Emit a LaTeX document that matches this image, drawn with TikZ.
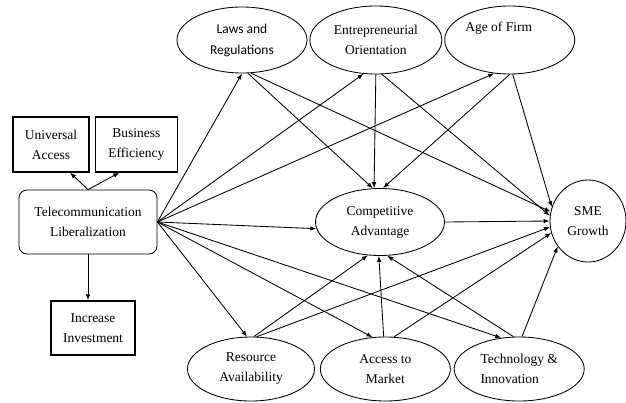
\documentclass[tikz,border=0pt]{standalone}
\usepackage{fontspec}
\setmainfont{Liberation Serif}
\newfontfamily\timesfont{Liberation Serif}
\newfontfamily\lawsfont{Carlito}
\usetikzlibrary{shapes.geometric,arrows.meta,positioning}

\begin{document}
\begin{tikzpicture}[x=1pt, y=-1pt, ->, >={Latex[length=6pt,width=4.5pt]}, line width=0.85pt,
        every node/.style={font=\timesfont\fontsize{13.5}{20}\selectfont, align=center, inner sep=0pt},
        box/.style={draw, rectangle, line width=1.3pt, minimum height=55pt},
        factor/.style={draw, ellipse, minimum height=66pt}]
        \useasboundingbox (0,0) rectangle (626,402);

        \node[box, minimum width=76pt] (UA) at (51,144.5) {Universal\\Access};
        \node[box, minimum width=82pt] (BE) [right=5pt of UA] {Business\\Efficiency};
        \node[draw, rounded corners=8pt, minimum width=138pt, minimum height=64pt] (TL) at (88,222) {Telecommunication\\Liberalization};
        \node[box, minimum width=84pt, minimum height=54pt] (II) at (93,328) {Increase\\Investment};

        \node[factor, minimum width=130pt, font=\lawsfont\fontsize{13.5}{21}\selectfont] (LR) at (242,40) {Laws and\\Regulations};
        \node[factor, minimum width=132pt, minimum height=68pt] (EO) [right=2pt of LR] {Entrepreneurial\\Orientation};
        \node[factor, minimum width=130pt, minimum height=68pt] (AF) [right=2pt of EO] {Age of Firm\rule{22pt}{0pt}\\[6pt]\rule{0pt}{1pt}};
        \node[factor, minimum width=129pt, minimum height=67pt] (CA) at (380,222) {Competitive\\Advantage};
        \node[factor, minimum width=76pt, minimum height=82pt] (SG) at (588,221) {SME\\Growth};
        \node[factor, minimum width=127pt, minimum height=64pt] (RA) at (251,369) {Resource\\Availability};
        \node[factor, minimum width=130pt, minimum height=64pt] (AM) [right=5pt of RA] {Access to\\Market};
        \node[factor, minimum width=130pt, minimum height=64pt, align=left] (TI) [right=3pt of AM] {Technology \&\\Innovation};

        \path (TL.north) edge ([xshift=19pt]UA.south)
              (TL.north) edge ([xshift=-17pt]BE.south)
              (TL.south) edge (TL.south |- II.north)
              (TL.east) edge (LR.south)
              (TL.east) edge (EO.250)
              (TL.east) edge (AF.245)
              (TL.east) edge (CA.186)
              (TL.east) edge (RA.97)
              (TL.east) edge (AM.112)
              (TL.east) edge (TI.120)
              (LR.-80) edge (CA.102)
              (EO.south) edge (CA.100)
              (AF.-90) edge (CA.85)
              (RA.85) edge (CA.-110)
              (AM.93) edge (CA.-92)
              (TI.100) edge (CA.-78)
              (LR.-75) edge (SG.166)
              (EO.-80) edge (SG.172)
              (AF.-85) edge (SG.159)
              (CA.east) edge (SG.west)
              (RA.80) edge (SG.189)
              (AM.75) edge (SG.198)
              (TI.85) edge (SG.220)
        ;
    \end{tikzpicture}
\end{document}
